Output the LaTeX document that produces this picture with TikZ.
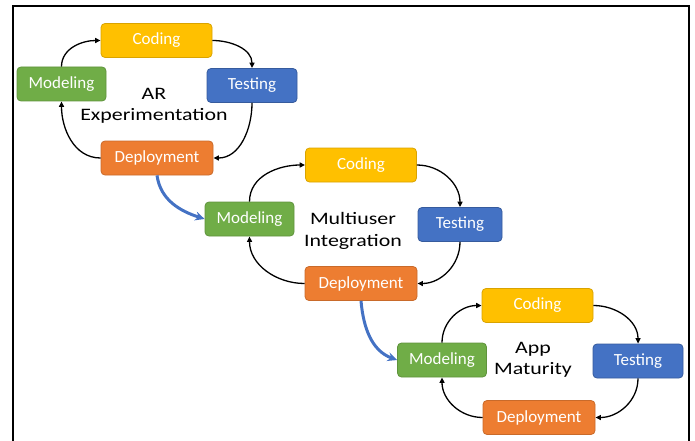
\documentclass[tikz,border=0pt]{standalone}
\usepackage{fontspec}
\setmainfont{Carlito}
\newfontfamily\phasefont[FakeStretch=1.25]{Carlito}
\usetikzlibrary{arrows.meta}

\definecolor{codeyellow}{HTML}{FFC000}
\definecolor{testblue}{HTML}{4472C4}
\definecolor{deployorange}{HTML}{ED7D31}
\definecolor{modelgreen}{HTML}{70AD47}
\definecolor{linkblue}{HTML}{4472C4}

\tikzset{
  box/.style={rounded corners=4pt, inner sep=0pt, minimum height=34pt,
    text=white, font=\fontsize{17}{20}\selectfont, line width=0.8pt},
  coding/.style={box, fill=codeyellow, draw=codeyellow!85!black, minimum width=111pt},
  testing/.style={box, fill=testblue, draw=testblue!80!black, minimum width=90pt},
  deploy/.style={box, fill=deployorange, draw=deployorange!85!black, minimum width=112pt},
  modeling/.style={box, fill=modelgreen, draw=modelgreen!85!black, minimum width=89pt},
  phase/.style={align=center, font=\phasefont\fontsize{17.5}{21.5}\selectfont, inner sep=0pt},
  cycle/.style={line width=1.3pt, -{Triangle[length=5.5pt,width=5pt]}},
  handoff/.style={line width=3pt, draw=linkblue, -{Stealth[length=9.5pt,width=9pt]}},
  frame/.style={line width=2.6pt}
}

\begin{document}
\begin{tikzpicture}[x=1pt,y=1pt]
  \useasboundingbox (0,0) rectangle (695,440);
  \clip (0,0) rectangle (695,440);

  % outer frame (open at the bottom)
  \draw[frame] (13,-5) -- (13,434) -- (689,434) -- (689,-5);

  % stage 1: AR experimentation
  \node[coding]   (c1) at (156.5,399.5) {Coding};
  \node[modeling] (m1) at (61.5,356)    {Modeling};
  \node[testing]  (t1) at (252,354.5)   {Testing};
  \node[deploy]   (d1) at (157,282)     {Deployment};
  \node[phase]    (l1) at (154,334)     {AR\\Experimentation};

  % stage 2: multiuser integration
  \node[coding]                  (c2) at (361,275)     {Coding};
  \node[modeling]                (m2) at (249.5,221)   {Modeling};
  \node[testing, minimum width=84pt] (t2) at (460,215.5) {Testing};
  \node[deploy]                  (d2) at (361,156.5)   {Deployment};
  \node[phase]                   (l2) at (353,209)     {Multiuser\\Integration};

  % stage 3: app maturity
  \node[coding]   (c3) at (537.5,134.5) {Coding};
  \node[modeling] (m3) at (442,80)      {Modeling};
  \node[testing]  (t3) at (638,79)      {Testing};
  \node[deploy]   (d3) at (539,22.5)    {Deployment};
  \node[phase]    (l3) at (533,80)      {App\\Maturity};

  % development cycles
  \foreach \s in {1,2,3}{
    \draw[cycle] (m\s.north) to[out=90,in=180] (c\s.west);
    \draw[cycle] (c\s.east)  to[out=0,in=90]   (t\s.north);
    \draw[cycle] (t\s.south) to[out=-90,in=0]  (d\s.east);
    \draw[cycle] (d\s.west)  to[out=180,in=-90] (m\s.south);
  }

  % hand-off between stages
  \draw[handoff] (d1.south) to[out=-82,in=162] (m2.west);
  \draw[handoff] (d2.south) to[out=-85,in=160] (m3.west);
\end{tikzpicture}
\end{document}
